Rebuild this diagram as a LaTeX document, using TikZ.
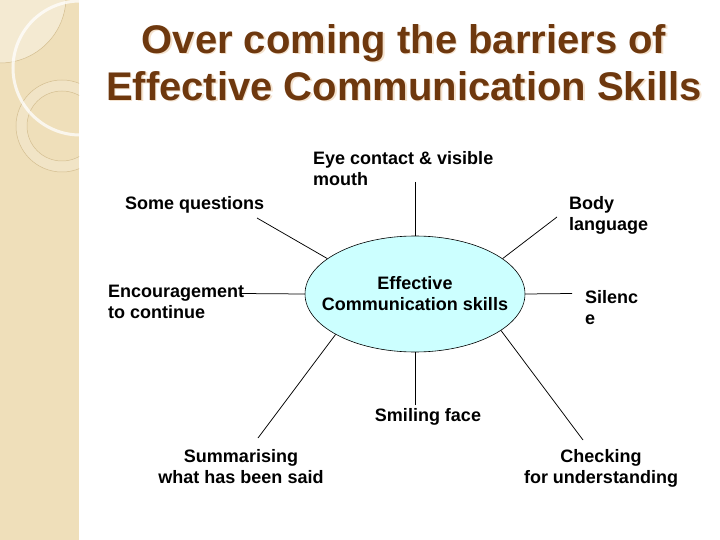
\documentclass[tikz,border=0pt]{standalone}
\usepackage{fontspec}
\setmainfont{Liberation Sans}
\usetikzlibrary{shapes.geometric}
\definecolor{titlebrown}{RGB}{110,56,14}
\definecolor{titleshade}{RGB}{244,226,206}
\definecolor{stripbeige}{RGB}{239,223,186}
\definecolor{stripline}{RGB}{212,190,144}
\definecolor{hubfill}{RGB}{204,255,255}
\begin{document}
\begin{tikzpicture}[x=1pt,y=-1pt,
  lbl/.style={font=\fontsize{18}{21}\selectfont\bfseries, inner sep=0pt, text=black},
  ttl/.style={font=\fontsize{40}{47}\selectfont\bfseries, inner sep=0pt, align=center},
  spoke/.style={draw=black, line width=0.75pt},
  hub/.style={ellipse, draw=black, line width=0.6pt, fill=hubfill, minimum width=220pt, minimum height=116pt, inner sep=0pt}]
\useasboundingbox (0,0) rectangle (720,540);
\fill[white] (0,0) rectangle (720,540);
% decorative strip
\begin{scope}
\clip (0,0) rectangle (79,540);
\fill[stripbeige] (0,0) rectangle (79,540);
\fill[white, opacity=0.35] (0,-3) circle (66);
\draw[stripline, line width=0.5pt] (0,-3) circle (66);
\fill[white, opacity=0.18, even odd rule] (62,126) circle (46) (62,126) circle (35);
\draw[stripline, line width=0.5pt] (62,126) circle (46);
\draw[stripline, line width=0.5pt] (62,126) circle (35);
\draw[white, opacity=0.75, line width=3pt] (80,68) circle (67);
\end{scope}
% title
\node[ttl, text=titleshade] (titleshadow) at (405.5,68.9) {\strut Over coming the barriers of\\\strut Effective Communication Skills};
\node[ttl, text=titlebrown] (title) at (404,67.4) {\strut Over coming the barriers of\\\strut Effective Communication Skills};
% hub
\node[hub] (hub) at (415,294) {};
\node[lbl, align=center] (hubtext) at (415,295.7) {\strut Effective\\\strut Communication skills};
% labels
\node[lbl, anchor=west, align=left] (eye) at (313,171.2) {\strut Eye contact \& visible\\\strut mouth};
\node[lbl, anchor=west] (someq) at (125,205.2) {\strut Some questions};
\node[lbl, anchor=west, align=left] (body) at (569,216.2) {\strut Body\\\strut language};
\node[lbl, anchor=west, align=left] (enc) at (108,304.2) {\strut Encouragement\\\strut to continue};
\node[lbl, anchor=west, align=left] (sil) at (585,310.2) {\strut Silenc\\\strut e};
\node[lbl] (smile) at (428,417.2) {\strut Smiling face};
\node[lbl, align=center] (summ) at (241,468.9) {\strut Summarising\\\strut what has been said};
\node[lbl, align=center] (check) at (601,468.9) {\strut Checking\\\strut for understanding};
% connector free ends
\coordinate (eyeend) at (415,182);
\coordinate (sqend) at (257,218);
\coordinate (bodyend) at (557,217);
\coordinate (encend) at (240,293.5);
\coordinate (silend) at (572,293.5);
\coordinate (smileend) at (415,405);
\coordinate (summend) at (258,438);
\coordinate (checkend) at (583,440);
% connectors
\draw[spoke] (eyeend) -- (hub.north);
\draw[spoke] (sqend) -- (hub.158);
\draw[spoke] (bodyend) -- (hub.22);
\draw[spoke] (encend) -- (hub.west);
\draw[spoke] (silend) -- (hub.east);
\draw[spoke] (smileend) -- (hub.south);
\draw[spoke] (summend) -- (hub.207.4);
\draw[spoke] (checkend) -- (hub.337);
\end{tikzpicture}
\end{document}
